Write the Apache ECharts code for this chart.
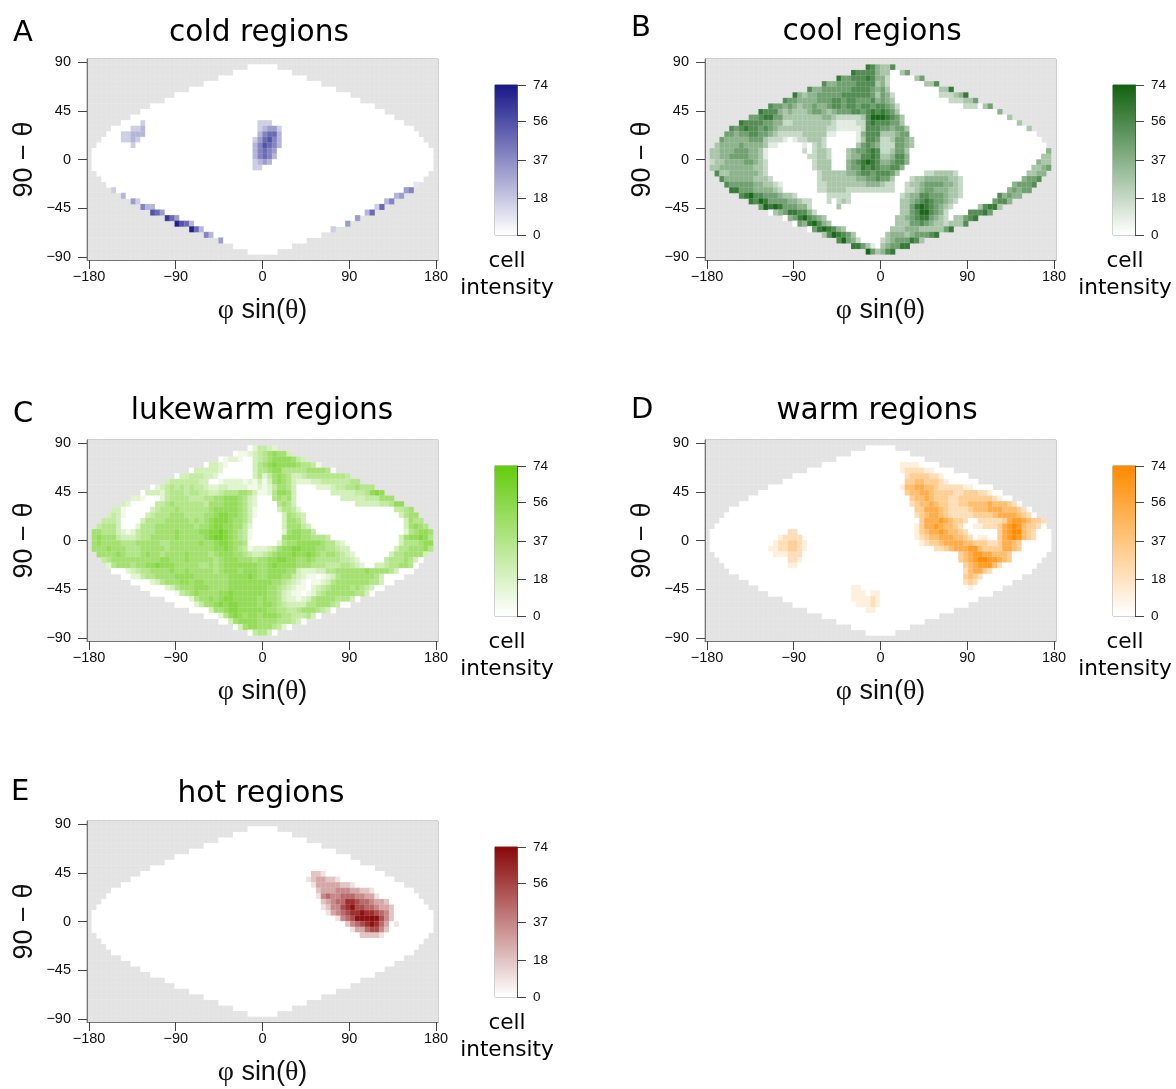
<!DOCTYPE html>
<html><head><meta charset="utf-8">
<style>html,body{margin:0;padding:0;background:#fff}#c{width:1176px;height:1089px}</style>
<script src="https://cdn.jsdelivr.net/npm/echarts@6/dist/echarts.min.js"></script></head>
<body><div id="c"></div>
<script>
// half-width (in cells) of the white region, read per row, top half; rows 1..18
const halfTop=[0,3,6,9,12,15,18,20,23,25,27,29,31,32,33,34,35,35];
const xTicks=[-180,-90,0,90,180];
const yTicks=[-90,-45,0,45,90];
const barTicks=[0,18,37,56,74];
// levels 0-9 per cell; "zNz" = N empty cells; rows 2..35, left|right of the centre line
const coolRows=[
"764|336","766664|330035","755666764|420000035","644555566663|42z7z336",
"644555555666654|53z10z337","743445555566666653|542z9z222347",
"65544445556656655564|543z11z222335","65545434454456656656656|6542z13z2220 35",
"7666434333 4554345556656 76|7653z20z4","55677553333333344322222 3688|87653z21z3",
"76666554422333333332111122676|66553z23z3","656766565433333333332 2111112666|554553z24z3",
"55455665543222223333311z4z14666|333455z26z","5444445553222 10122333 2z6z13665|2235543z26z",
"34444544443 11z5z10232z6z35654|2225543z27z","334445554431z7z20233 2z3z3455676|223553z28z4",
"334455554431z8z22332z3z3446676|334664z27z33","233444455432z9z2333z3z4567876|445664z26z433",
"334444444332z9z2333z3z4557676|55664z26z3345","63344444432z10z2333334456656|6653z5z2233332z14z3344",
"64444443332z9z2333333344556|553z3z23344444332z12z4556","655555443321z7z2233333333444|322z2z233455554432z10z45556",
"77555444432z7z2233332222222|222z2z223455444332z9z45455","678665554332z6z22222z6z|z4z2344665554332z7z64544",
"76875555443 22z3z20232z6z|z4z334567655432z7z5664","58787555442z5z3z8z|z4z33578765432z5z36773",
"034577664 2z13z|z4z3356886542z4z66675","045786543z11z|z3z334567754320 33567",
"0547 8643z10z|z3z3335565433 23336","05787643z7z|z2z3334443333357",
"3687653z5z|z1z34443455567","68542z4z|234555763","775310|345577","853|467"];
const lukeRows=[
"024|432","011234|567663","012210034|567777643","03321z5z35|678777765541",
"0333332z6z35|567755555666650","033444332z7z35|246765334555555554",
"344444433z2z122221213|13676532223 34444 4455","0234545454432233222 2112|124665 3z4z222344556555",
"03332455545544334555665 31|125776 3z7z33333445787","221z3z245555444556677765320|z2z56563z9z33333444666",
"32z5z4456555555466677765320|z3z5653z12z3333344577","331z5z34555655555567777765310|z3z35542z19z4456",
"3431z4z34555666555566788776 5310|z4z36543z19z3566","4443z4z35555666665656788876 65300|z4z36653z20z3655",
"45553z3z2555666666665667887766 4200|z4z366643z19z36765","66555321245556666766667788987654100|z4z2677664z18z256776",
"67666433345566666766666789987654100|z4z6777665554z14z3677875","6766665556666655666666766788766 5000|00025667777765532z11z3555677",
"666766655566666566666666677876 54122|234677887776655433z9z35566675","666676555676656666766665677766 5433|4567778778765665432z7z35566663",
"45666666666677666766666567776 6656|67788776676555554432z5z45556530","2566656677877766666556567777 7776|678777766655544455432z2z334556650",
"00234556666766766666567776 7776|6777766322233556666667666653000","0022455666677776666 6667777876|67776643211 0123566666665 30000",
"z4z2356667767766666777 7777|77665432101123566666665 5300","z5z235666777666677777 77|766543211023456666565 4300",
"000001456766667787777 77|76653211012456666665530","z5z25667678877777 6|766532212356666555 30",
"0000246678788 77776|776543333556665400","0000366788 77777|766554456665 430",
"000257876776|77765544453 0","003677776|666555430","036776|665420","045|530"];
// [row, first column, levels]
const coldCells=[
[12,11,"2"],[13,9,"223"],[14,7,"22333"],[15,7,"2232"],[16,9,"2"],
[12,35,"222"],[13,35,"23442"],[14,35,"35663"],[15,34,"246753"],[16,34,"357653"],[17,34,"35654"],[18,34,"35653"],[19,34,"2343"],[20,34,"22"],
[24,5,"2"],[25,7,"3"],[26,9,"42"],[27,11,"533"],[28,13,"764"],[29,16,"864"],[30,18,"9763"],[31,21,"963"],[32,24,"53"],[33,27,"4"],
[31,50,"2"],[30,53,"4"],[29,55,"4"],[28,57,"36"],[27,59,"26"],[26,61,"35"],[25,63,"34"],[24,65,"45"],[23,67,"1"]];
const warmCells=[
[17,17,"22"],[18,15,"12222"],[19,14,"1223321"],[20,13,"11223321"],[21,14,"111222"],[22,17,"221"],[23,17,"11"],
[27,30,"11"],[28,30,"111011"],[29,30,"111121"],[30,31,"11121"],[31,33,"11"],
[5,40,"1111"],[6,40,"1222211"],[7,41,"23333221"],[8,41,"334433321"],[9,40,"144554432222211"],[10,41,"344554333322333221"],
[11,42,"3445433322333333321"],[12,42,"2344543322334444544432"],[13,43,"33555432222344455544432"],[14,43,"234554322222333345555432"],
[15,44,"355565433200"+"22222356654332"],[16,43,"1355654432"+"00"+"112"+"22356764332"],[17,43,"13455654432"+"000000"+"35687432"],
[18,43,"123445554432"+"0"+"11"+"00"+"35676432"],[19,44,"123345555443332235543"],[20,47,"223455566433335543"],[21,52,"34566554443"],[22,52,"34567766543"],
[23,53,"34566642"],[24,53,"245532"],[25,53,"3432"],[26,53,"232"],[27,54,"1"]];
const hotCells=[
[10,46,"221"],[11,45,"1233221"],[12,46,"133333221"],[13,47,"233344433221"],[14,47,"1454455544331"],
[15,48,"23455776554332"],[16,48,"124467866554332"],[17,49,"13456778776542"],[18,51,"145688898642"],
[19,53,"245678753"],[19,63,"1"],[20,54,"13356642"],[21,56,"22221"]];
// intensity represented by one level in each panel
const levelSteps=[8,9,7.4,10.5,9];

const panels=[
 {name:"cold regions",tag:"A",left:87,top:59,color:"#1a1a8c",sparse:coldCells,tx:259,ty:33,lx:13,ly:33},
 {name:"cool regions",tag:"B",left:705,top:59,color:"#146314",rows:coolRows,tx:872,ty:32,lx:631,ly:28},
 {name:"lukewarm regions",tag:"C",left:87,top:440,color:"#66cc11",rows:lukeRows,tx:262,ty:411,lx:13,ly:414},
 {name:"warm regions",tag:"D",left:705,top:440,color:"#ff8c00",sparse:warmCells,tx:877,ty:411,lx:631,ly:410},
 {name:"hot regions",tag:"E",left:87,top:821,color:"#8b0a0a",sparse:hotCells,tx:261,ty:794,lx:11,ly:792}
];
const COLS=72,ROWS=36;
const halves=halfTop.concat(halfTop.slice().reverse());
const expand=s=>s.replace(/\s/g,"").replace(/z(\d+)z/g,(m,n)=>"0".repeat(+n));
function grid(p,step){
  const g=[];
  for(let r=0;r<ROWS;r++){g.push(new Array(COLS).fill(null));
    const h=halves[r];for(let k=36-h;k<36+h;k++)g[r][k]=0;}
  if(p.rows)p.rows.forEach((s,i)=>{
    const r=i+1,h=halves[r],[a,b]=s.split("|").map(expand);
    const L=a.padStart(h,"0").slice(-h),R=b.padEnd(h,"0").slice(0,h);
    for(let k=0;k<h;k++){g[r][36-h+k]=Math.min(74,+L[k]*step);g[r][36+k]=Math.min(74,+R[k]*step);}
  });
  if(p.sparse)p.sparse.forEach(([row,col,s])=>{[...s].forEach((d,k)=>{g[row-1][col+k]=Math.min(74,+d*step);});});
  return g;
}
const minus=v=>String(v).replace("-","\u2212");
const idx=n=>Array.from({length:n},(_,i)=>String(i));
const tickFont={fontFamily:"Liberation Sans",fontSize:14.5,color:"#111"};
const opt={animation:false,backgroundColor:"#fff",title:[],grid:[],xAxis:[],yAxis:[],series:[],visualMap:[]};
const BOXW=351,BOXH=201,XR=182.07,YR=92.77;
const tickLine={color:"#444",width:1};
panels.forEach((p,pi)=>{
  const g=grid(p,levelSteps[pi]),gi=opt.grid.length,xi=opt.xAxis.length,yi=opt.yAxis.length;
  opt.grid.push({left:p.left,top:p.top,width:BOXW,height:BOXH,show:true,borderColor:"#8a8a8a",borderWidth:1,outerBoundsMode:"none"});
  opt.xAxis.push({type:"category",gridIndex:gi,data:idx(COLS),show:false});
  opt.yAxis.push({type:"category",gridIndex:gi,data:idx(ROWS),inverse:true,show:false});
  opt.xAxis.push({type:"value",gridIndex:gi,min:-XR,max:XR,position:"bottom",splitLine:{show:false},z:5,
    axisLine:{show:true,onZero:false,lineStyle:{color:"#777",width:1}},
    axisTick:{show:true,length:9,lineStyle:tickLine,customValues:xTicks},
    axisLabel:{...tickFont,margin:9,customValues:xTicks,formatter:minus,hideOverlap:false,showMinLabel:true,showMaxLabel:true},
    name:"{s|\u03c6} sin({s|\u03b8})",nameLocation:"middle",nameGap:37,nameMoveOverlap:false,
    nameTextStyle:{fontFamily:"Liberation Sans",fontSize:27,color:"#111",rich:{s:{fontFamily:"Liberation Serif",fontSize:28,color:"#111"}}}});
  opt.yAxis.push({type:"value",gridIndex:gi,min:-YR,max:YR,position:"left",splitLine:{show:false},z:5,
    axisLine:{show:true,onZero:false,lineStyle:{color:"#777",width:1}},
    axisTick:{show:true,length:9,lineStyle:tickLine,customValues:yTicks},
    axisLabel:{...tickFont,margin:16,padding:[2,0,0,0],customValues:yTicks,formatter:minus,showMinLabel:true,showMaxLabel:true},
    name:"90 \u2212 \u03b8",nameLocation:"middle",nameGap:49,nameRotate:90,nameMoveOverlap:false,
    nameTextStyle:{fontFamily:"Liberation Sans",fontSize:27,color:"#111"}});
  const gray=[],vals=[];
  g.forEach((row,r)=>row.forEach((v,c)=>{if(v===null)gray.push([c,r,1]);else vals.push([c,r,v]);}));
  const cellStyle={borderColor:"rgba(255,255,255,0.16)",borderWidth:0.6};
  opt.series.push({type:"heatmap",xAxisIndex:xi,yAxisIndex:yi,data:gray,silent:true,progressive:0,itemStyle:{color:"#e3e3e3",...cellStyle},emphasis:{disabled:true}});
  const si=opt.series.length;
  opt.series.push({type:"heatmap",xAxisIndex:xi,yAxisIndex:yi,data:vals,silent:true,progressive:0,itemStyle:cellStyle,emphasis:{disabled:true}});
  // colour bar
  const bg=opt.grid.length,bx=opt.xAxis.length,by=opt.yAxis.length,bl=p.left+408,bt=p.top+26;
  opt.grid.push({left:bl,top:bt,width:22,height:150,show:true,borderColor:"#8a8a8a",borderWidth:1,outerBoundsMode:"none"});
  opt.xAxis.push({type:"category",gridIndex:bg,data:["c"],show:false});
  opt.yAxis.push({type:"category",gridIndex:bg,data:idx(75),show:false});
  opt.yAxis.push({type:"value",gridIndex:bg,min:0,max:74,position:"right",splitLine:{show:false},z:5,
    axisLine:{show:true,onZero:false,lineStyle:{color:"#555",width:1}},
    axisTick:{show:true,length:9,lineStyle:tickLine,customValues:barTicks},
    axisLabel:{...tickFont,fontSize:13.5,margin:16,padding:[2,0,0,0],customValues:barTicks,showMinLabel:true,showMaxLabel:true}});
  const bs=opt.series.length;
  opt.series.push({type:"heatmap",xAxisIndex:bx,yAxisIndex:by,data:idx(75).map(v=>[0,+v,+v]),silent:true,progressive:0,emphasis:{disabled:true}});
  opt.visualMap.push({show:false,type:"continuous",min:0,max:74,dimension:2,seriesIndex:[si,bs],inRange:{color:["#ffffff",p.color]}});
  // texts
  const big={fontFamily:"DejaVu Sans",fontWeight:"normal",color:"#000"};
  opt.title.push({text:p.name,left:p.tx,top:p.ty,textAlign:"center",textVerticalAlign:"middle",padding:0,textStyle:{...big,fontSize:29.6}});
  opt.title.push({text:p.tag,left:p.lx,top:p.ly,textVerticalAlign:"middle",padding:0,textStyle:{...big,fontSize:29}});
  opt.title.push({text:"cell",left:bl+12,top:p.top+202,textAlign:"center",textVerticalAlign:"middle",padding:0,textStyle:{...big,fontSize:21.6}});
  opt.title.push({text:"intensity",left:bl+12,top:p.top+229,textAlign:"center",textVerticalAlign:"middle",padding:0,textStyle:{...big,fontSize:21.6}});
});
const chart=echarts.init(document.getElementById("c"),null,{renderer:"canvas"});
chart.setOption(opt);
</script></body></html>
